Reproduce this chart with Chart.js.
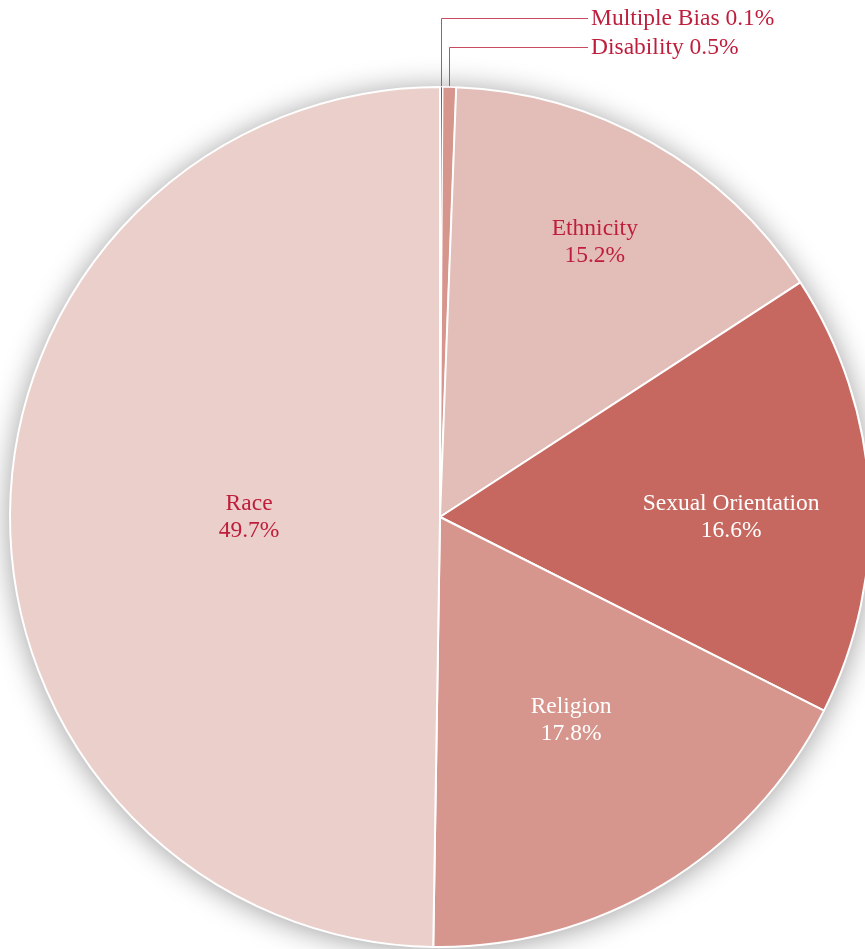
<!DOCTYPE html>
<html>
<head>
<meta charset="utf-8">
<script src="https://cdn.jsdelivr.net/npm/chart.js@4"></script>
<style>
  html, body { margin: 0; padding: 0; background: #fff; overflow: hidden; }
  #wrap { position: absolute; left: 0; top: 0; width: 880px; height: 949px; }
</style>
</head>
<body>
<div id="wrap"><canvas id="biasPie"></canvas></div>
<script>
// hate crime bias categories, clockwise from top
const categories = ['Multiple Bias', 'Disability', 'Ethnicity', 'Sexual Orientation', 'Religion', 'Race'];
const percents = [0.1, 0.5, 15.2, 16.6, 17.8, 49.7];

const sliceColors = ['#BE1E3C', '#D6968D', '#E3BDB7', '#C6685F', '#D6968D', '#EACFCA'];
const textColors = ['#BE1E3C', '#BE1E3C', '#BE1E3C', '#FFFFFF', '#FFFFFF', '#BE1E3C'];
// inside label placement, as fractions of the radius from the centre (x, y)
const labelOffset = [null, null, [0.36, -0.64], [0.677, 0], [0.305, 0.472], [-0.444, 0]];
// callout label rows for the tiny slices
const calloutY = [18, 47];

const FONT = '23.5px "Liberation Serif", "Times New Roman", serif';

const shadowPlugin = {
    id: 'pieShadow',
    beforeDatasetsDraw(chart) {
        const arc = chart.getDatasetMeta(0).data[0];
        if (!arc) return;
        const ctx = chart.ctx;
        ctx.save();
        ctx.shadowColor = 'rgba(0,0,0,0.4)';
        ctx.shadowBlur = 30;
        ctx.shadowOffsetY = 2;
        ctx.fillStyle = '#fff';
        ctx.beginPath();
        ctx.arc(arc.x, arc.y, arc.outerRadius, 0, Math.PI * 2);
        ctx.fill();
        ctx.restore();
    }
};

const labelPlugin = {
    id: 'pieLabels',
    afterDatasetsDraw(chart) {
        const ctx = chart.ctx;
        const arcs = chart.getDatasetMeta(0).data;
        ctx.save();
        ctx.font = FONT;
        arcs.forEach((arc, i) => {
            const mid = (arc.startAngle + arc.endAngle) / 2;
            const text2 = percents[i].toFixed(1) + '%';
            if (labelOffset[i] == null) {
                // callout: vertical up from the slice edge, then across to the text
                const r = arc.outerRadius;
                const px = Math.round(arc.x + r * Math.cos(mid)) + 0.5;
                const py = arc.y + r * Math.sin(mid);
                const ty = calloutY[i];
                ctx.strokeStyle = '#C94B5F';
                ctx.lineWidth = 1;
                ctx.beginPath();
                ctx.moveTo(px, py - 1);
                ctx.lineTo(px, ty + 0.5);
                ctx.lineTo(588, ty + 0.5);
                ctx.stroke();
                ctx.fillStyle = textColors[i];
                ctx.textAlign = 'left';
                ctx.textBaseline = 'middle';
                ctx.fillText(categories[i] + ' ' + text2, 591, ty + 1);
            } else {
                const x = arc.x + arc.outerRadius * labelOffset[i][0];
                const y = arc.y + arc.outerRadius * labelOffset[i][1];
                ctx.fillStyle = textColors[i];
                ctx.textAlign = 'center';
                ctx.textBaseline = 'middle';
                ctx.fillText(categories[i], x, y - 13);
                ctx.fillText(text2, x, y + 14);
            }
        });
        ctx.restore();
    }
};

new Chart(document.getElementById('biasPie'), {
    type: 'pie',
    data: {
        labels: categories,
        datasets: [{
            data: percents,
            backgroundColor: sliceColors,
            borderColor: '#fff',
            borderWidth: [0.6, 1.5, 2, 2, 2, 2]
        }]
    },
    options: {
        responsive: true,
        maintainAspectRatio: false,
        animation: false,
        radius: 430,
        layout: { padding: { top: 85, bottom: 0, left: 0, right: 0 } },
        plugins: {
            legend: { display: false },
            tooltip: { enabled: false }
        }
    },
    plugins: [shadowPlugin, labelPlugin]
});
</script>
</body>
</html>
